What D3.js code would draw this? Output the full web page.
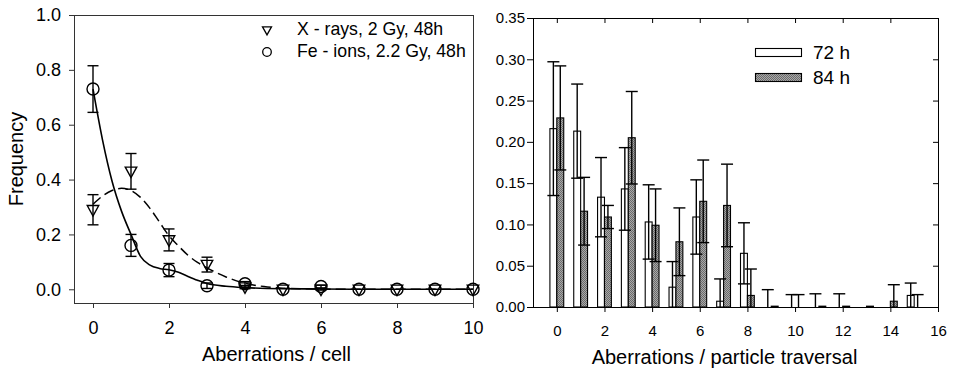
<!DOCTYPE html>
<html><head><meta charset="utf-8">
<script src="https://cdn.jsdelivr.net/npm/d3@7"></script>
<style>
html,body{margin:0;padding:0;background:#fff;}
svg{display:block;font-family:"Liberation Sans",Arial,Helvetica,sans-serif;}
</style></head>
<body>
<svg id="chart" width="953" height="371"></svg>
<script>
// ---------- Left panel data ----------
const cellX = [0,1,2,3,4,5,6,7,8,9,10];
const xrayFreq = [0.29,0.43,0.18,0.09,0.008,0.0,0.0,0,0,0,0];
const xrayErr  = [0.055,0.065,0.04,0.027,0.006,0,0.003,0,0,0,0];
const feFreq   = [0.73,0.16,0.07,0.013,0.02,0.0,0.01,0,0,0,0];
const feErr    = [0.085,0.04,0.024,0.01,0.008,0,0.005,0,0,0,0];
// fitted curves
const xrayFitX = [0,0.25,0.5,0.75,1,1.25,1.5,1.75,2,2.25,2.5,2.75,3,3.5,4,4.5,5,6,7,10];
const xrayFitY = [0.31,0.34,0.36,0.368,0.36,0.335,0.295,0.245,0.195,0.158,0.124,0.098,0.078,0.045,0.022,0.01,0.004,0.001,0,0];
const feFitX = [0,0.25,0.5,0.75,1,1.25,1.5,1.75,2,2.25,2.5,2.75,3,3.5,4,5,6,7,10];
const feFitY = [0.73,0.545,0.395,0.285,0.2,0.12,0.088,0.076,0.071,0.062,0.047,0.033,0.021,0.011,0.006,0.002,0.001,0,0];
const leftLegend = ["X - rays, 2 Gy, 48h","Fe - ions, 2.2 Gy, 48h"];
const leftXTicks = [0,2,4,6,8,10];
const leftYTicks = [0,0.2,0.4,0.6,0.8,1.0];

// ---------- Right panel data ----------
const travCat = [0,1,2,3,4,5,6,7,8,9,10,11,12,13,14,15];
const h72 = [0.216,0.213,0.133,0.143,0.103,0.024,0.109,0.007,0.065,0,0,0,0,0,0,0.014];
const e72 = [0.081,0.057,0.048,0.050,0.045,0.031,0.045,0.027,0.037,0.021,0.015,0.016,0.016,0,0,0.015];
const h84 = [0.229,0.116,0.109,0.205,0.099,0.079,0.128,0.123,0.014,0.001,0,0.001,0.001,0.001,0.007,0];
const e84 = [0.063,0.041,0.014,0.056,0.044,0.041,0.050,0.050,0.032,0,0.015,0,0,0,0.020,0.015];
const rightLegend = ["72 h","84 h"];
const rightXTicks = [0,2,4,6,8,10,12,14,16];
const rightYTicks = [0,0.05,0.10,0.15,0.20,0.25,0.30,0.35];

const svg = d3.select("#chart");
const defs = svg.append("defs");
const pat = defs.append("pattern").attr("id","grayPat").attr("patternUnits","userSpaceOnUse")
  .attr("width",2).attr("height",2);
pat.append("rect").attr("width",2).attr("height",2).attr("fill","#a8a8a8");
pat.append("rect").attr("width",1).attr("height",1).attr("fill","#6a6a6a");
pat.append("rect").attr("x",1).attr("y",1).attr("width",1).attr("height",1).attr("fill","#6a6a6a");

// ================= LEFT PANEL =================
const xL = d3.scaleLinear().domain([-0.5,10]).range([74,473]);
const yL = d3.scaleLinear().domain([-0.05,1.0]).range([303,15]);
const gL = svg.append("g");

gL.append("g").attr("transform","translate(0,303)")
  .call(d3.axisBottom(xL).tickValues(leftXTicks).tickFormat(d3.format("d")).tickSize(5).tickPadding(13))
  .call(g=>{g.select(".domain").remove(); g.selectAll("text").attr("font-size",18).attr("font-family",null);
            g.selectAll("line").attr("stroke","#333");});
gL.append("g").attr("transform","translate(74,0)")
  .call(d3.axisLeft(yL).tickValues(leftYTicks).tickFormat(d3.format(".1f")).tickSize(5).tickPadding(8))
  .call(g=>{g.select(".domain").remove(); g.selectAll("text").attr("font-size",18).attr("font-family",null);
            g.selectAll("line").attr("stroke","#333");});
gL.append("rect").attr("x",xL.range()[0]+0.5).attr("y",yL.range()[1]+0.5)
  .attr("width",xL.range()[1]-xL.range()[0]).attr("height",yL.range()[0]-yL.range()[1])
  .attr("fill","none").attr("stroke","#333").attr("stroke-width",1);

gL.append("text").attr("x",(xL(-0.5)+xL(10))/2+3).attr("y",361).attr("text-anchor","middle")
  .attr("font-size",20).text("Aberrations / cell");
gL.append("text").attr("transform",`translate(23,${(yL(1)+yL(-0.05))/2})rotate(-90)`)
  .attr("text-anchor","middle").attr("font-size",20).text("Frequency");

// curves
const lineL = d3.line().x(d=>xL(d[0])).y(d=>yL(d[1])).curve(d3.curveMonotoneX);
gL.append("path").datum(xrayFitX.map((x,i)=>[x,xrayFitY[i]])).attr("d",lineL)
  .attr("fill","none").attr("stroke","#000").attr("stroke-width",1.5).attr("stroke-dasharray","10,5");
gL.append("path").datum(feFitX.map((x,i)=>[x,feFitY[i]])).attr("d",lineL)
  .attr("fill","none").attr("stroke","#000").attr("stroke-width",1.6);

function errBarsL(vals, errs){
  const g = gL.append("g").attr("stroke","#000").attr("stroke-width",1.4);
  cellX.forEach((x,i)=>{
    if(errs[i]<=0) return;
    const cx = xL(x), y1 = yL(vals[i]+errs[i]), y0 = yL(vals[i]-errs[i]);
    g.append("line").attr("x1",cx).attr("x2",cx).attr("y1",y1).attr("y2",y0);
    g.append("line").attr("x1",cx-5.5).attr("x2",cx+5.5).attr("y1",y1).attr("y2",y1);
    g.append("line").attr("x1",cx-5.5).attr("x2",cx+5.5).attr("y1",y0).attr("y2",y0);
  });
}
errBarsL(xrayFreq, xrayErr);
errBarsL(feFreq, feErr);

function triPath(cx,cy,w,h){
  return `M${cx-w/2},${cy-h*0.4}L${cx+w/2},${cy-h*0.4}L${cx},${cy+h*0.6}Z`;
}
gL.append("g").selectAll("path").data(cellX).join("path")
  .attr("d",(d,i)=>triPath(xL(d),yL(xrayFreq[i]),11.5,10.5))
  .attr("fill","none").attr("stroke","#000").attr("stroke-width",1.4);
gL.append("g").selectAll("circle").data(cellX).join("circle")
  .attr("cx",d=>xL(d)).attr("cy",(d,i)=>yL(feFreq[i])).attr("r",6)
  .attr("fill","none").attr("stroke","#000").attr("stroke-width",1.4);

// legend left
gL.append("path").attr("d",triPath(267,30,9,8)).attr("fill","none").attr("stroke","#000").attr("stroke-width",1.3);
gL.append("circle").attr("cx",267).attr("cy",52).attr("r",4.3).attr("fill","none").attr("stroke","#000").attr("stroke-width",1.3);
gL.append("text").attr("x",297).attr("y",35).attr("font-size",17.7).text(leftLegend[0]);
gL.append("text").attr("x",297).attr("y",57).attr("font-size",17.7).text(leftLegend[1]);

// ================= RIGHT PANEL =================
const xR = d3.scaleLinear().domain([-1,16]).range([533,938]);
const yR = d3.scaleLinear().domain([0,0.35]).range([307,18]);
const gR = svg.append("g");
defs.append("clipPath").attr("id","clipR").append("rect")
  .attr("x",533).attr("y",18).attr("width",405).attr("height",289);

gR.append("g").attr("transform","translate(0,307)")
  .call(d3.axisBottom(xR).tickValues(rightXTicks).tickFormat(d3.format("d")).tickSize(5).tickPadding(13))
  .call(g=>{g.select(".domain").remove(); g.selectAll("text").attr("font-size",15).attr("font-family",null);});
gR.append("g").attr("transform","translate(0,18)")
  .call(d3.axisTop(xR).tickValues(rightXTicks).tickFormat("").tickSize(-5))
  .call(g=>g.select(".domain").remove());
gR.append("g").attr("transform","translate(533,0)")
  .call(d3.axisLeft(yR).tickValues(rightYTicks).tickFormat(d3.format(".2f")).tickSize(6).tickPadding(2))
  .call(g=>{g.select(".domain").remove(); g.selectAll("text").attr("font-size",15).attr("font-family",null);});
gR.append("g").attr("transform","translate(938,0)")
  .call(d3.axisRight(yR).tickValues(rightYTicks).tickFormat("").tickSize(-5))
  .call(g=>g.select(".domain").remove());
gR.append("rect").attr("x",533.5).attr("y",18.5).attr("width",405).attr("height",289)
  .attr("fill","none").attr("stroke","#000").attr("stroke-width",1);

gR.append("text").attr("x",(xR(-1)+xR(16))/2-11).attr("y",364).attr("text-anchor","middle")
  .attr("font-size",20).text("Aberrations / particle traversal");

const bw = 0.29;
const bars = gR.append("g").attr("clip-path","url(#clipR)");
bars.selectAll("rect.w").data(travCat).join("rect").attr("class","w")
  .attr("x",d=>xR(d-bw)).attr("width",d=>xR(d)-xR(d-bw))
  .attr("y",(d,i)=>yR(h72[i])).attr("height",(d,i)=>yR(0)-yR(h72[i]))
  .attr("fill","#fff").attr("stroke","#000").attr("stroke-width",1.1);
bars.selectAll("rect.g").data(travCat).join("rect").attr("class","g")
  .attr("x",d=>xR(d)).attr("width",d=>xR(d+bw)-xR(d))
  .attr("y",(d,i)=>yR(h84[i])).attr("height",(d,i)=>yR(0)-yR(h84[i]))
  .attr("fill","url(#grayPat)").attr("stroke","#000").attr("stroke-width",1.1);

function errBarsR(vals, errs, off){
  const g = bars.append("g").attr("stroke","#000").attr("stroke-width",1.4);
  travCat.forEach((c,i)=>{
    if(errs[i]<=0) return;
    const cx = xR(c+off), y1 = yR(vals[i]+errs[i]), y0 = yR(vals[i]-errs[i]);
    g.append("line").attr("x1",cx).attr("x2",cx).attr("y1",y1).attr("y2",y0);
    g.append("line").attr("x1",cx-6).attr("x2",cx+6).attr("y1",y1).attr("y2",y1);
    g.append("line").attr("x1",cx-6).attr("x2",cx+6).attr("y1",y0).attr("y2",y0);
  });
}
errBarsR(h72, e72, -bw/2);
errBarsR(h84, e84, bw/2);

// legend right
gR.append("rect").attr("x",755.5).attr("y",48.5).attr("width",46).attr("height",8)
  .attr("fill","#fff").attr("stroke","#000").attr("stroke-width",1.1);
gR.append("rect").attr("x",755.5).attr("y",73.5).attr("width",46).attr("height",8)
  .attr("fill","url(#grayPat)").attr("stroke","#000").attr("stroke-width",1.1);
gR.append("text").attr("x",813).attr("y",59).attr("font-size",19).text(rightLegend[0]);
gR.append("text").attr("x",813).attr("y",84).attr("font-size",19).text(rightLegend[1]);
</script>
</body></html>
